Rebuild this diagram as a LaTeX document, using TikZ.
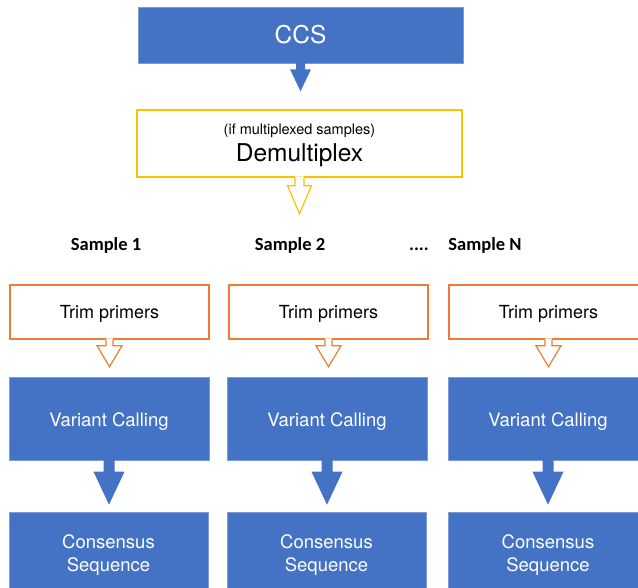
\documentclass[tikz,border=0pt]{standalone}
\usepackage{fontspec}
\setmainfont{TeX Gyre Heros}
\newfontfamily\samplefont{Carlito}
\usetikzlibrary{
    calc,
    positioning
}
\definecolor{flowblue}{RGB}{68,114,196}
\definecolor{trimorange}{RGB}{237,125,49}
\definecolor{demuxyellow}{RGB}{255,192,0}
\tikzset{
  bluebox/.style  = {draw=flowblue!70!white, fill=flowblue, text=white,
                     line width=0.6pt, inner sep=0pt, align=center,
                     minimum width=200pt, minimum height=83pt,
                     font=\fontsize{18.5}{23}\selectfont},
  varbox/.style   = {bluebox, text height=16pt, text depth=1pt},
  consbox/.style  = {bluebox, minimum width=199pt, minimum height=82pt},
  trimbox/.style  = {draw=trimorange, fill=white, line width=1.2pt,
                     inner sep=0pt, minimum width=199pt, minimum height=54pt,
                     text height=15pt, text depth=2pt,
                     font=\fontsize{18}{22}\selectfont},
  samplelbl/.style = {anchor=base, font=\samplefont\bfseries\fontsize{18.5}{22}\selectfont}
}
% filled block arrow: colour, from, tip, shaft half width, head half width, head length
\newcommand{\solidarrow}[6]{%
  \fill[#1] let \p1=#2, \p2=#3 in
    (\x1-#4pt,\y1+0.5pt) -- (\x1-#4pt,\y2+#6pt) -- (\x1-#5pt,\y2+#6pt) -- (\x1,\y2)
    -- (\x1+#5pt,\y2+#6pt) -- (\x1+#4pt,\y2+#6pt) -- (\x1+#4pt,\y1+0.5pt) -- cycle;}
% outlined block arrow, open into the box above
\newcommand{\hollowarrow}[6]{%
  \fill[white] let \p1=#2, \p2=#3 in
    (\x1-#4pt,\y1+1.2pt) -- (\x1-#4pt,\y2+#6pt) -- (\x1-#5pt,\y2+#6pt) -- (\x1,\y2)
    -- (\x1+#5pt,\y2+#6pt) -- (\x1+#4pt,\y2+#6pt) -- (\x1+#4pt,\y1+1.2pt) -- cycle;
  \draw[#1, line width=1.2pt] let \p1=#2, \p2=#3 in
    (\x1-#4pt,\y1) -- (\x1-#4pt,\y2+#6pt) -- (\x1-#5pt,\y2+#6pt) -- (\x1,\y2)
    -- (\x1+#5pt,\y2+#6pt) -- (\x1+#4pt,\y2+#6pt) -- (\x1+#4pt,\y1);}
\newcommand{\lowered}[1]{\raisebox{-2pt}[\height][\depth]{#1}}

\begin{document}
\begin{tikzpicture}[x=1pt, y=-1pt]

\path[use as bounding box] (0,0) rectangle (638,588);
\clip (0,0) rectangle (638,588);

%% top of the flow
\node[bluebox, minimum width=325pt, minimum height=56pt,
      font=\fontsize{24.5}{28}\selectfont] (ccs) at (300.5,35) {CCS};
\node[draw=demuxyellow, line width=1.4pt, minimum width=325pt,
      minimum height=67pt, inner sep=0pt, align=center] (demux) at (299.5,143.5)
      {\lowered{\fontsize{14.5}{17}\selectfont (if multiplexed samples)}\\[5pt]
       \lowered{\fontsize{24.5}{28}\selectfont Demultiplex}};
\coordinate (split) at ($(demux.south)+(0,36)$);

%% samples
\node[samplelbl] (s1)   at (106,251)   {Sample 1};
\node[samplelbl] (s2)   at (290,251)   {Sample 2};
\node[samplelbl] (dots) at (419,251)   {....};
\node[samplelbl] (sN)   at (485,251)   {Sample N};

%% per-sample columns
\node[trimbox] (trim1) at (109.5,312) {Trim primers};
\node[trimbox] (trim2) at (328.5,312) {Trim primers};
\node[trimbox] (trimN) at (548.5,312) {Trim primers};

\node[varbox] (var1) at (109,418.5) {Variant Calling};
\node[varbox] (var2) at (327,418.5) {Variant Calling};
\node[varbox] (varN) at (548,418.5) {Variant Calling};

\node[consbox] (cons1) at (108.5,553) {\lowered{Consensus}\\\lowered{Sequence}};
\node[consbox] (cons2) at (326.5,553) {\lowered{Consensus}\\\lowered{Sequence}};
\node[consbox] (consN) at (548,553)   {\lowered{Consensus}\\\lowered{Sequence}};

%% arrows
\solidarrow{flowblue}{(ccs.south)}{($(demux.north)+(0,-18)$)}{4.5}{10.5}{22}
\hollowarrow{demuxyellow}{(demux.south)}{(split)}{4.5}{12}{28}

\hollowarrow{trimorange}{(trim1.south)}{($(var1.north)+(0,-10)$)}{3.5}{12.5}{21}
\hollowarrow{trimorange}{(trim2.south)}{($(var2.north)+(0,-10)$)}{3.5}{12.5}{21}
\hollowarrow{trimorange}{(trimN.south)}{($(varN.north)+(0,-10)$)}{3.5}{12.5}{21}

\solidarrow{flowblue}{(var1.south)}{($(cons1.north)+(0,-7)$)}{5.5}{15.5}{33}
\solidarrow{flowblue}{(var2.south)}{($(cons2.north)+(0,-7)$)}{5.5}{15.5}{33}
\solidarrow{flowblue}{(varN.south)}{($(consN.north)+(0,-7)$)}{5.5}{15.5}{33}

\end{tikzpicture}
\end{document}
